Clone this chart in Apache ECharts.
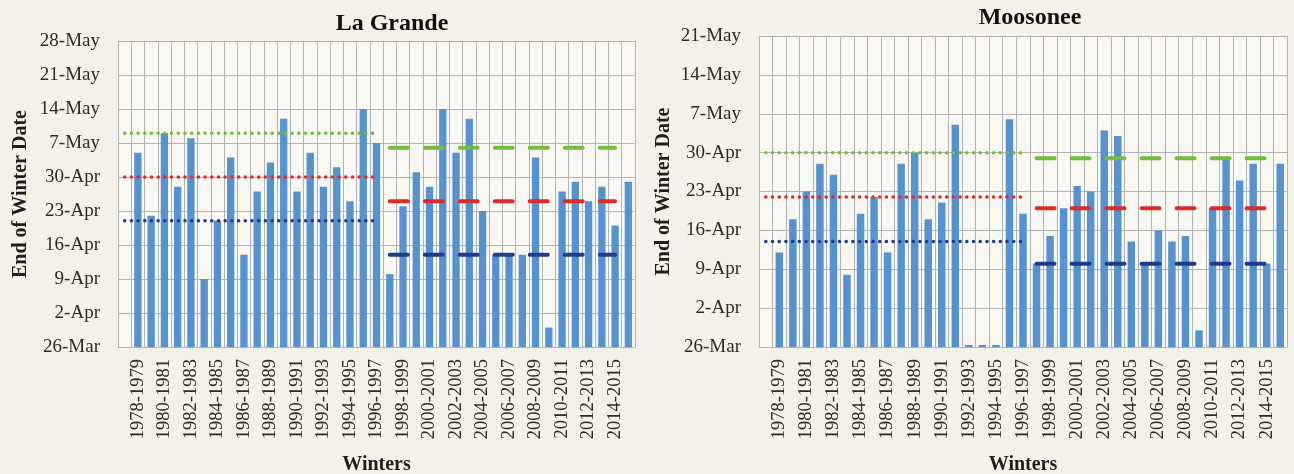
<!DOCTYPE html>
<html>
<head>
<meta charset="utf-8">
<script src="https://cdn.jsdelivr.net/npm/echarts@6/dist/echarts.min.js"></script>
<style>
  html, body { margin: 0; padding: 0; background: #f4f1e8; }
  #chart { width: 1294px; height: 474px; }
</style>
</head>
<body>
<div id="chart"></div>
<script>
// Winters, one per bar slot (the first slot has no observation)
const winters = [
  '1977-1978', '1978-1979', '1979-1980', '1980-1981', '1981-1982', '1982-1983', '1983-1984',
  '1984-1985', '1985-1986', '1986-1987', '1987-1988', '1988-1989', '1989-1990', '1990-1991',
  '1991-1992', '1992-1993', '1993-1994', '1994-1995', '1995-1996', '1996-1997', '1997-1998',
  '1998-1999', '1999-2000', '2000-2001', '2001-2002', '2002-2003', '2003-2004', '2004-2005',
  '2005-2006', '2006-2007', '2007-2008', '2008-2009', '2009-2010', '2010-2011', '2011-2012',
  '2012-2013', '2013-2014', '2014-2015', '2015-2016'
];

// End of winter date for each winter
const laGrandeEnd = [
  null, '5-May', '22-Apr', '9-May', '28-Apr', '8-May', '9-Apr', '21-Apr', '4-May', '14-Apr',
  '27-Apr', '3-May', '12-May', '27-Apr', '5-May', '28-Apr', '2-May', '25-Apr', '14-May', '7-May',
  '10-Apr', '24-Apr', '1-May', '28-Apr', '14-May', '5-May', '12-May', '23-Apr', '14-Apr', '14-Apr',
  '14-Apr', '4-May', '30-Mar', '27-Apr', '29-Apr', '25-Apr', '28-Apr', '20-Apr', '29-Apr'
];
const moosoneeEnd = [
  null, '12-Apr', '18-Apr', '23-Apr', '28-Apr', '26-Apr', '8-Apr', '19-Apr', '22-Apr', '12-Apr',
  '28-Apr', '30-Apr', '18-Apr', '21-Apr', '5-May', '26-Mar', '26-Mar', '26-Mar', '6-May', '19-Apr',
  '10-Apr', '15-Apr', '20-Apr', '24-Apr', '23-Apr', '4-May', '3-May', '14-Apr', '10-Apr', '16-Apr',
  '14-Apr', '15-Apr', '29-Mar', '20-Apr', '29-Apr', '25-Apr', '28-Apr', '10-Apr', '28-Apr'
];

// Reference levels for the two periods: [upper, middle, lower]
const periodEarly = ['1977-1978', '1996-1997'];
const periodLate = ['1997-1998', '2014-2015'];
const laGrandeEarly = ['9-May', '30-Apr', '21-Apr'];
const laGrandeLate = ['6-May', '25-Apr', '14-Apr'];
const moosoneeEarly = ['30-Apr', '22-Apr', '14-Apr'];
const moosoneeLate = ['29-Apr', '20-Apr', '10-Apr'];

// Axis ranges (dates)
const axisStart = '26-Mar';
const laGrandeAxisEnd = '28-May';
const moosoneeAxisEnd = '21-May';
const tickStepDays = 7;

const MONTHS = ['Jan', 'Feb', 'Mar', 'Apr', 'May', 'Jun'];
const DAY = 86400000;
function toUTC(s) {
  const [d, m] = s.split('-');
  return Date.UTC(2001, MONTHS.indexOf(m), +d);
}
const originUTC = toUTC(axisStart);
// days after the axis start date
function dayNum(s) {
  return s == null ? null : Math.round((toUTC(s) - originUTC) / DAY);
}
function dayLabel(v) {
  const dt = new Date(originUTC + v * DAY);
  return dt.getUTCDate() + '-' + MONTHS[dt.getUTCMonth()];
}

const serif = '"Liberation Serif", "DejaVu Serif", serif';
const textColor = '#2b2b2b';
const gridColor = '#b3b3b3';
const barColor = '#5592d0';
const levelColors = ['#72bd3e', '#dd2a2a', '#1f3c8c'];

function levelLine(period, value, color, dotted, axisIdx) {
  const i0 = winters.indexOf(period[0]);
  const i1 = winters.indexOf(period[1]);
  const v = dayNum(value);
  return {
    type: 'line',
    xAxisIndex: axisIdx, yAxisIndex: axisIdx,
    data: winters.map((w, i) => (i >= i0 && i <= i1 ? v : null)),
    symbol: 'none',
    silent: true,
    z: 5,
    lineStyle: dotted
      ? { color, width: 3.5, type: [0.1, 6.6], cap: 'round' }
      : { color, width: 4, type: [18, 17], cap: 'round' }
  };
}

function panel(idx, gridBox, endDate, yNameGap) {
  const grid = Object.assign(
    { show: true, backgroundColor: '#f9f7f1', borderWidth: 0, outerBoundsMode: 'none', containLabel: false },
    gridBox
  );
  const xAxis = {
    type: 'category', gridIndex: idx, data: winters,
    name: 'Winters', nameLocation: 'middle', nameGap: 108,
    nameTextStyle: { fontFamily: serif, fontSize: 20, fontWeight: 'bold', color: '#1e1e1e' },
    axisLine: { show: true, lineStyle: { color: gridColor } },
    axisTick: { show: false },
    axisLabel: {
      rotate: 90, margin: 12, interval: (i) => i % 2 === 1,
      fontFamily: serif, fontSize: 18.5, color: textColor
    },
    splitLine: { show: true, interval: 0, lineStyle: { color: gridColor, width: 1 } }
  };
  const yAxis = {
    type: 'value', gridIndex: idx,
    min: 0, max: dayNum(endDate), interval: tickStepDays,
    name: 'End of Winter Date', nameLocation: 'middle', nameGap: yNameGap, nameRotate: 90,
    nameTextStyle: { fontFamily: serif, fontSize: 20, fontWeight: 'bold', color: '#1e1e1e' },
    axisLine: { show: true, lineStyle: { color: gridColor } },
    axisTick: { show: false },
    axisLabel: { formatter: dayLabel, margin: 18, fontFamily: serif, fontSize: 19, color: textColor },
    splitLine: { show: true, lineStyle: { color: gridColor, width: 1 } }
  };
  return { grid, xAxis, yAxis };
}

const left = panel(0, { left: 118, top: 41, width: 517, height: 306 }, laGrandeAxisEnd, 87);
const right = panel(1, { left: 759, top: 36, width: 528, height: 311 }, moosoneeAxisEnd, 85);

const series = [
  {
    type: 'bar', xAxisIndex: 0, yAxisIndex: 0, barWidth: '55%',
    data: laGrandeEnd.map(dayNum), itemStyle: { color: barColor }, z: 3
  },
  {
    type: 'bar', xAxisIndex: 1, yAxisIndex: 1, barWidth: '55%', barMinHeight: 2,
    data: moosoneeEnd.map(dayNum), itemStyle: { color: barColor }, z: 3
  }
];
[0, 1, 2].forEach((k) => {
  series.push(levelLine(periodEarly, laGrandeEarly[k], levelColors[k], true, 0));
  series.push(levelLine(periodLate, laGrandeLate[k], levelColors[k], false, 0));
  series.push(levelLine(periodEarly, moosoneeEarly[k], levelColors[k], true, 1));
  series.push(levelLine(periodLate, moosoneeLate[k], levelColors[k], false, 1));
});

const chart = echarts.init(document.getElementById('chart'), null, { renderer: 'canvas' });
chart.setOption({
  backgroundColor: '#f4f1e8',
  animation: false,
  title: [
    { text: 'La Grande', left: 387, top: 7, textAlign: 'center',
      textStyle: { fontFamily: serif, fontSize: 24, fontWeight: 'bold', color: '#111' } },
    { text: 'Moosonee', left: 1025, top: 1, textAlign: 'center',
      textStyle: { fontFamily: serif, fontSize: 24, fontWeight: 'bold', color: '#111' } }
  ],
  grid: [left.grid, right.grid],
  xAxis: [left.xAxis, right.xAxis],
  yAxis: [left.yAxis, right.yAxis],
  series
});
</script>
</body>
</html>
